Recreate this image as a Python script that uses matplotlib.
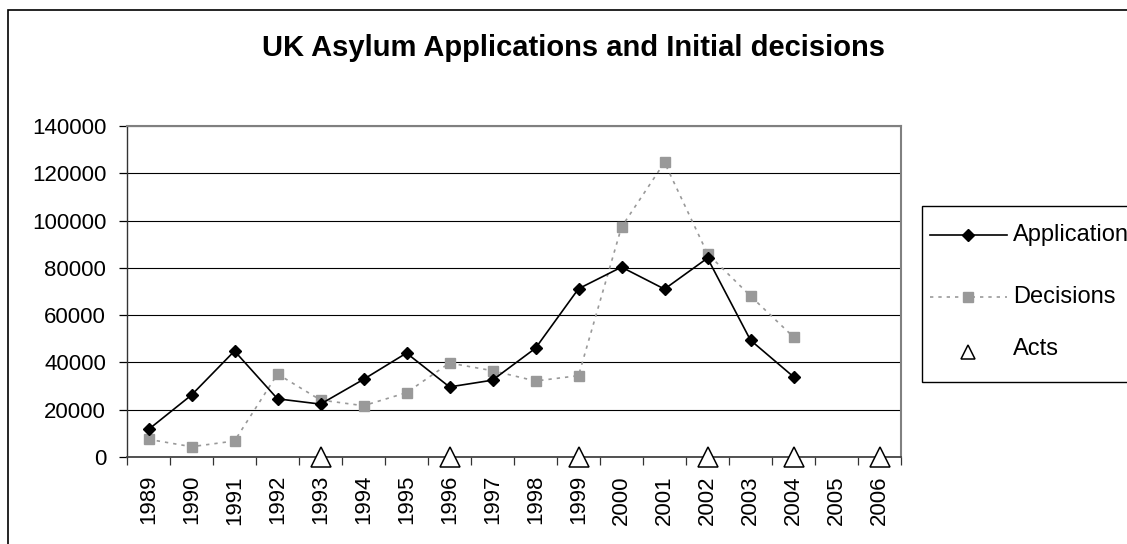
import matplotlib
matplotlib.use("Agg")
import matplotlib.pyplot as plt
from matplotlib.lines import Line2D
from matplotlib.patches import Rectangle
import numpy as np

plt.rcParams['font.family'] = ['Liberation Sans', 'DejaVu Sans']

years = [str(y) for y in range(1989, 2007)]
applications = [11640, 26205, 44840, 24605, 22370, 32830, 43965, 29640, 32500,
                46015, 71160, 80315, 71025, 84130, 49405, 33930]
decisions = [7480, 4360, 6770, 35100, 24100, 21700, 27200, 39760, 36500,
             32150, 34400, 97280, 124600, 86000, 68100, 50760]
act_years = ['1993', '1996', '1999', '2002', '2004', '2006']
act_values = [0, 0, 0, 0, 0, 0]
series_labels = ['Applications', 'Decisions', 'Acts']

W, H = 1127, 544
fig = plt.figure(figsize=(W / 100, H / 100), dpi=100)
ax = fig.add_axes([127 / W, 1 - 457 / H, (901 - 127) / W, (457 - 126) / H])

xpos = np.arange(len(years))
idx = {y: i for i, y in enumerate(years)}

ax.set_xlim(-0.5, len(years) - 0.5)
ax.set_ylim(0, 140000)
ax.set_yticks(np.arange(0, 140001, 20000))
ax.yaxis.grid(True, color='black', lw=0.8)
ax.set_axisbelow(True)

gray = '#999999'
dec_style = dict(color=gray, lw=1.2, ls=(0, (2, 3)), marker='s',
                 markerfacecolor=gray, markeredgecolor=gray)
app_style = dict(color='black', lw=1.2, marker='D', markerfacecolor='black',
                 markeredgecolor='black')
act_style = dict(ls='none', marker='^', markerfacecolor='white',
                 markeredgecolor='black', markeredgewidth=1.1)

ax.plot(xpos[:len(decisions)], decisions, markersize=7.2, zorder=3, **dec_style)
ax.plot(xpos[:len(applications)], applications, markersize=6.2, zorder=4,
        **app_style)
ax.plot([idx[y] for y in act_years], act_values, markersize=14.5, zorder=5,
        clip_on=False, **act_style)

# ticks
ax.set_xticks(xpos)
ax.set_xticklabels(years, rotation=90, fontsize=16)
ax.set_xticks(np.arange(-0.5, len(years)), minor=True)
ax.tick_params(axis='x', which='major', length=0, pad=13)
ax.tick_params(axis='x', which='minor', length=5.5, width=0.9, color='#333333')
ax.tick_params(axis='y', labelsize=16, length=6, width=0.9, pad=9)
ax.set_yticklabels([str(v) for v in range(0, 140001, 20000)])

for s in ['top', 'right']:
    ax.spines[s].set_color('#808080')
    ax.spines[s].set_linewidth(1.5)
ax.spines['left'].set_color('#333333')
ax.spines['left'].set_linewidth(1.0)
ax.spines['bottom'].set_color('#444444')
ax.spines['bottom'].set_linewidth(1.3)

fig.text(573 / W, 1 - 48 / H, 'UK Asylum Applications and Initial decisions',
         ha='center', va='center', fontsize=21, fontweight='bold')

# legend drawn manually (its box runs past the right edge, as in the reference)
def fx(px):
    return px / W

def fy(py):
    return 1 - py / H

fig.add_artist(Rectangle((fx(922), fy(382)), fx(1140) - fx(922),
                         fy(206) - fy(382), transform=fig.transFigure,
                         facecolor='white', edgecolor='black', lw=1.0))
rows = [235, 297, 352]
text_rows = [235, 297, 349]
fig.add_artist(Line2D([fx(930), fx(1007)], [fy(rows[0])] * 2,
                      transform=fig.transFigure, color='black', lw=1.2))
fig.add_artist(Line2D([fx(968)], [fy(rows[0])], transform=fig.transFigure,
                      markersize=6, **{k: v for k, v in app_style.items()
                                       if k not in ('color', 'lw')},
                      ls='none'))
fig.add_artist(Line2D([fx(930), fx(1007)], [fy(rows[1])] * 2,
                      transform=fig.transFigure, color=gray, lw=1.2,
                      ls=(0, (2, 3))))
fig.add_artist(Line2D([fx(968)], [fy(rows[1])], transform=fig.transFigure,
                      ls='none', marker='s', markersize=6.5,
                      markerfacecolor=gray, markeredgecolor=gray))
fig.add_artist(Line2D([fx(968)], [fy(rows[2])], transform=fig.transFigure,
                      markersize=10.5, **act_style))
for lab, r in zip(series_labels, text_rows):
    fig.text(fx(1013), fy(r), lab, ha='left', va='center', fontsize=17)

fig.add_artist(Rectangle((7.5 / W, -0.1), 2, (H - 10.5) / H + 0.1,
                         transform=fig.transFigure, fill=False,
                         edgecolor='black', lw=1.2))

fig.savefig('out.png', dpi=100)
